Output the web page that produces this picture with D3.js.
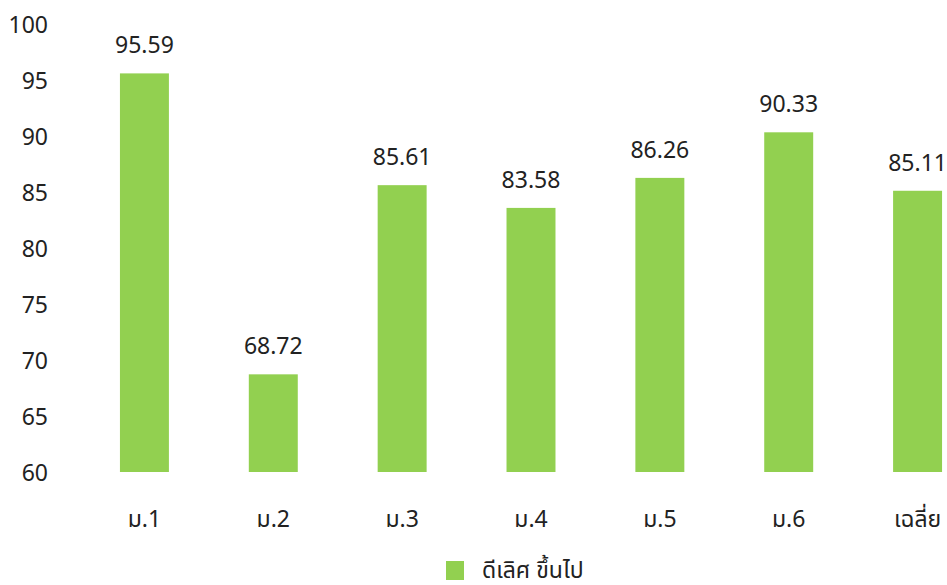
<!DOCTYPE html>
<html>
<head>
<meta charset="utf-8">
<script src="https://cdn.jsdelivr.net/npm/d3@7/dist/d3.min.js"></script>
<style>
  body { margin: 0; background: #fff; }
  text { font-family: "Noto Sans", "Noto Sans Thai", "Open Sans", sans-serif; fill: #222; }
</style>
</head>
<body>
<div id="chart"></div>
<script>
// Data
var categories = ["ม.1", "ม.2", "ม.3", "ม.4", "ม.5", "ม.6", "เฉลี่ย"];
var values = [95.59, 68.72, 85.61, 83.58, 86.26, 90.33, 85.11];
var yTicks = [60, 65, 70, 75, 80, 85, 90, 95, 100];
var seriesName = "ดีเลิศ ขึ้นไป";

var width = 947, height = 585;
var barColor = "#92d050";

var svg = d3.select("#chart").append("svg")
    .attr("width", width)
    .attr("height", height);

// Scales
var x = d3.scaleBand().domain(categories).range([80, 982]).paddingInner(0.62).paddingOuter(0.31);
var y = d3.scaleLinear().domain([60, 100]).range([472, 24]);

// y axis (labels only)
var yAxis = d3.axisLeft(y).tickValues(yTicks).tickSize(0).tickPadding(0);
svg.append("g")
    .attr("transform", "translate(48,0)")
    .call(yAxis)
    .call(function(g) { g.select(".domain").remove(); })
    .selectAll("text")
    .attr("dy", "0.36em")
    .style("font-size", "23px")
    .style("font-family", null)
    .attr("fill", "#222");

// x axis (labels only)
var xAxis = d3.axisBottom(x).tickSize(0).tickPadding(0);
svg.append("g")
    .attr("transform", "translate(0,472)")
    .call(xAxis)
    .call(function(g) { g.select(".domain").remove(); })
    .selectAll("text")
    .attr("dy", null)
    .attr("y", 55)
    .style("font-size", "23px")
    .style("font-family", null)
    .attr("fill", "#222");

// Bars
svg.append("g").selectAll("rect")
    .data(values)
    .enter().append("rect")
    .attr("x", function(d, i) { return x(categories[i]); })
    .attr("y", function(d) { return y(d); })
    .attr("width", x.bandwidth())
    .attr("height", function(d) { return y(60) - y(d); })
    .attr("fill", barColor);

// Value labels
svg.append("g").selectAll("text")
    .data(values)
    .enter().append("text")
    .attr("x", function(d, i) { return x(categories[i]) + x.bandwidth() / 2; })
    .attr("y", function(d) { return y(d) - 20; })
    .attr("text-anchor", "middle")
    .style("font-size", "23px")
    .text(function(d) { return d.toFixed(2); });

// Legend
var legend = svg.append("g").attr("transform", "translate(446,561)");
legend.append("rect")
    .attr("width", 18)
    .attr("height", 19)
    .attr("fill", barColor);
legend.append("text")
    .attr("x", 36)
    .attr("y", 17)
    .style("font-size", "23px")
    .text(seriesName);
</script>
</body>
</html>
